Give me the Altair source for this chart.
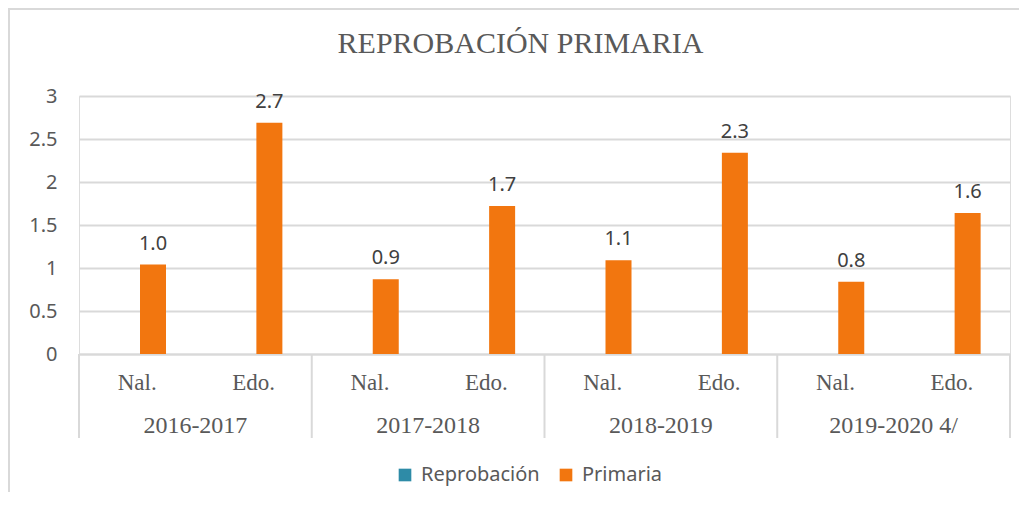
import altair as alt
import pandas as pd

# ---- data ----
years = ["2016-2017", "2017-2018", "2018-2019", "2019-2020 4/"]
levels = ["Nal.", "Edo."]
primaria = [1.04, 2.69, 0.87, 1.72, 1.09, 2.34, 0.84, 1.64]
series = ["Reprobación", "Primaria"]
series_colors = ["#2E8BA7", "#F2760F"]
y_ticks = [0, 0.5, 1, 1.5, 2, 2.5, 3]

rows = []
k = 0
for y in years:
    for lv in levels:
        rows.append({"year": y, "level": lv, "cat": y + "|" + lv,
                     "serie": "Primaria", "value": primaria[k]})
        k += 1
df = pd.DataFrame(rows)
cats = list(df["cat"])

sep_df = pd.DataFrame({"pos": list(range(len(years) + 1))})
year_df = pd.DataFrame({"pos": [i + 0.5 for i in range(len(years))], "year": years})

W, H = 931, 258
GRID = "#D9D9D9"
TXT = "#595959"
SERIF = "Liberation Serif"
SANS = "Noto Sans"

xscale = alt.Scale(domain=cats, paddingInner=0, paddingOuter=0)
xoff = alt.XOffset("serie:N", scale=alt.Scale(domain=series, range=[35, 87],
                                                paddingInner=0, paddingOuter=0))

base = alt.Chart(df).encode(
    x=alt.X("cat:N", sort=cats, scale=xscale,
            axis=alt.Axis(title=None, labelExpr="split(datum.label, '|')[1]",
                          labelAngle=0, labelFont=SERIF, labelFontSize=23,
                          labelColor=TXT, labelPadding=17, ticks=False,
                          domainColor=GRID, domainWidth=2, grid=False)),
    xOffset=xoff,
)

bars = base.mark_bar().encode(
    y=alt.Y("value:Q", scale=alt.Scale(domain=[0, 3], nice=False),
            axis=alt.Axis(title=None, values=y_ticks, format="~g", grid=True,
                          gridColor=GRID, gridWidth=2, domain=False, ticks=False,
                          labelFont=SANS, labelFontSize=20, labelColor=TXT,
                          labelPadding=22)),
    color=alt.Color("serie:N", scale=alt.Scale(domain=series, range=series_colors),
                    legend=alt.Legend(title=None, orient="none", direction="horizontal",
                                      legendX=316, legendY=369, symbolType="square",
                                      symbolSize=160, symbolStrokeWidth=0,
                                      labelFont=SANS, labelFontSize=20,
                                      labelColor=TXT, labelOffset=6,
                                      columnPadding=16, padding=0)),
)

labels = base.mark_text(font=SANS, fontSize=20, color="#404040",
                        baseline="alphabetic", dy=-15).encode(
    y=alt.Y("value:Q"),
    text=alt.Text("value:Q", format=".1f"),
)

seps = alt.Chart(sep_df).mark_rule(color=GRID, strokeWidth=2).encode(
    x=alt.X("pos:Q", scale=alt.Scale(domain=[0, len(years)], nice=False, zero=False),
            axis=None),
    y=alt.value(H),
    y2=alt.value(H + 84),
)

year_text = alt.Chart(year_df).mark_text(font=SERIF, fontSize=24, color=TXT,
                                         baseline="alphabetic").encode(
    x=alt.X("pos:Q", scale=alt.Scale(domain=[0, len(years)], nice=False, zero=False),
            axis=None),
    y=alt.value(H + 79),
    text="year:N",
)

frame_left = alt.Chart(sep_df).mark_rule(color=GRID, strokeWidth=2).encode(
    x=alt.value(-70), y=alt.value(-87), y2=alt.value(400))
frame_top = alt.Chart(sep_df).mark_rule(color=GRID, strokeWidth=2).encode(
    x=alt.value(-71), x2=alt.value(945), y=alt.value(-87))

main = alt.layer(bars, labels)
chart = alt.layer(main, seps, year_text, frame_left, frame_top).resolve_scale(
    x="independent"
).properties(
    width=W, height=H,
    title=alt.TitleParams("REPROBACIÓN PRIMARIA", font=SERIF, fontSize=30,
                          fontWeight="normal", color=TXT, anchor="middle",
                          dx=-24, baseline="alphabetic", offset=-75),
    autosize=alt.AutoSizeParams(type="none"),
    padding={"left": 71, "top": 88, "right": 9, "bottom": 138},
).configure_view(stroke=None).configure(background="white")

chart.save("out.html", embed_options={"renderer": "svg", "actions": False})
